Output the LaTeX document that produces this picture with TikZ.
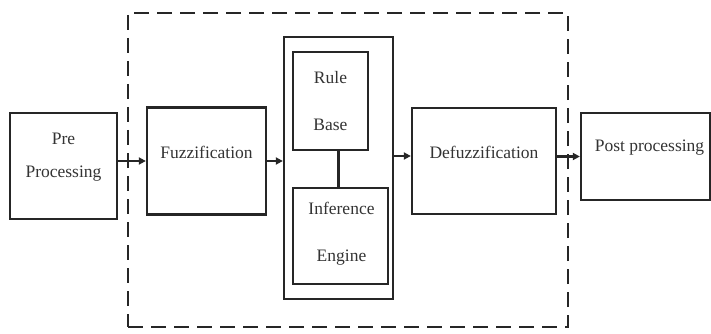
\documentclass[tikz,border=0pt]{standalone}
\usepackage{fontspec}
\setmainfont{Liberation Serif}
\usetikzlibrary{arrows.meta,calc}
\begin{document}
\begin{tikzpicture}[x=1pt,y=-1pt,
  box/.style={draw=black!85, line width=2.3pt, inner sep=0pt, rectangle},
  lbl/.style={font=\fontsize{17.5}{33}\selectfont, text=black!80, inner sep=0pt, align=center},
  tall/.style={font=\fontsize{17.5}{47}\selectfont},
  arr/.style={line width=2.3pt, draw=black!85, -{Triangle[length=7pt,width=7pt]}}]
\useasboundingbox (0,0) rectangle (711,334);
\node[box, dash pattern=on 15pt off 8pt, line width=2.8pt, minimum width=440pt, minimum height=314pt] (fz) at (348,170) {};
\node[box, minimum width=107pt, minimum height=106pt] (pre) at (63.5,166) {};
\node[box, minimum width=119pt, minimum height=107pt] (fuzz) at (206.5,161) {};
\node[box, minimum width=109pt, minimum height=262pt] (cont) at (338.5,168) {};
\node[box, minimum width=75pt, minimum height=98pt] (rule) at (330.5,101) {};
\node[box, minimum width=95pt, minimum height=96pt] (inf) at (340.5,236) {};
\node[box, minimum width=144pt, minimum height=106pt] (defuzz) at (484,161) {};
\node[box, minimum width=129pt, minimum height=87pt] (post) at (645.5,156.5) {};
% labels
\node[lbl] (preT) at ($(pre)+(0,-9)$) {Pre\\Processing};
\node[lbl] (fuzzT) at ($(fuzz)+(0,-9)$) {Fuzzification};
\node[lbl, tall] (ruleT) at (rule) {Rule\\Base};
\node[lbl, tall] (infT) at ($(inf)+(1,-2)$) {Inference\\Engine};
\node[lbl] (defuzzT) at ($(defuzz)+(0,-9)$) {Defuzzification};
\node[lbl] (postT) at ($(post)+(4,-9)$) {Post processing};
% connectors
\draw[arr] (fuzz.west -| pre.east) -- (fuzz.west);
\draw[arr] (fuzz.east) -- (fuzz.east -| cont.west);
\draw[arr] ($(defuzz.west -| cont.east)+(0,-5)$) -- ($(defuzz.west)+(0,-5)$);
\draw[arr] (post.west -| defuzz.east) -- (post.west);
\draw[line width=2.3pt, draw=black!85] (rule.south -| inf.north) ++(-2,0) coordinate (rb) -- (rb |- inf.north);
\end{tikzpicture}
\end{document}
